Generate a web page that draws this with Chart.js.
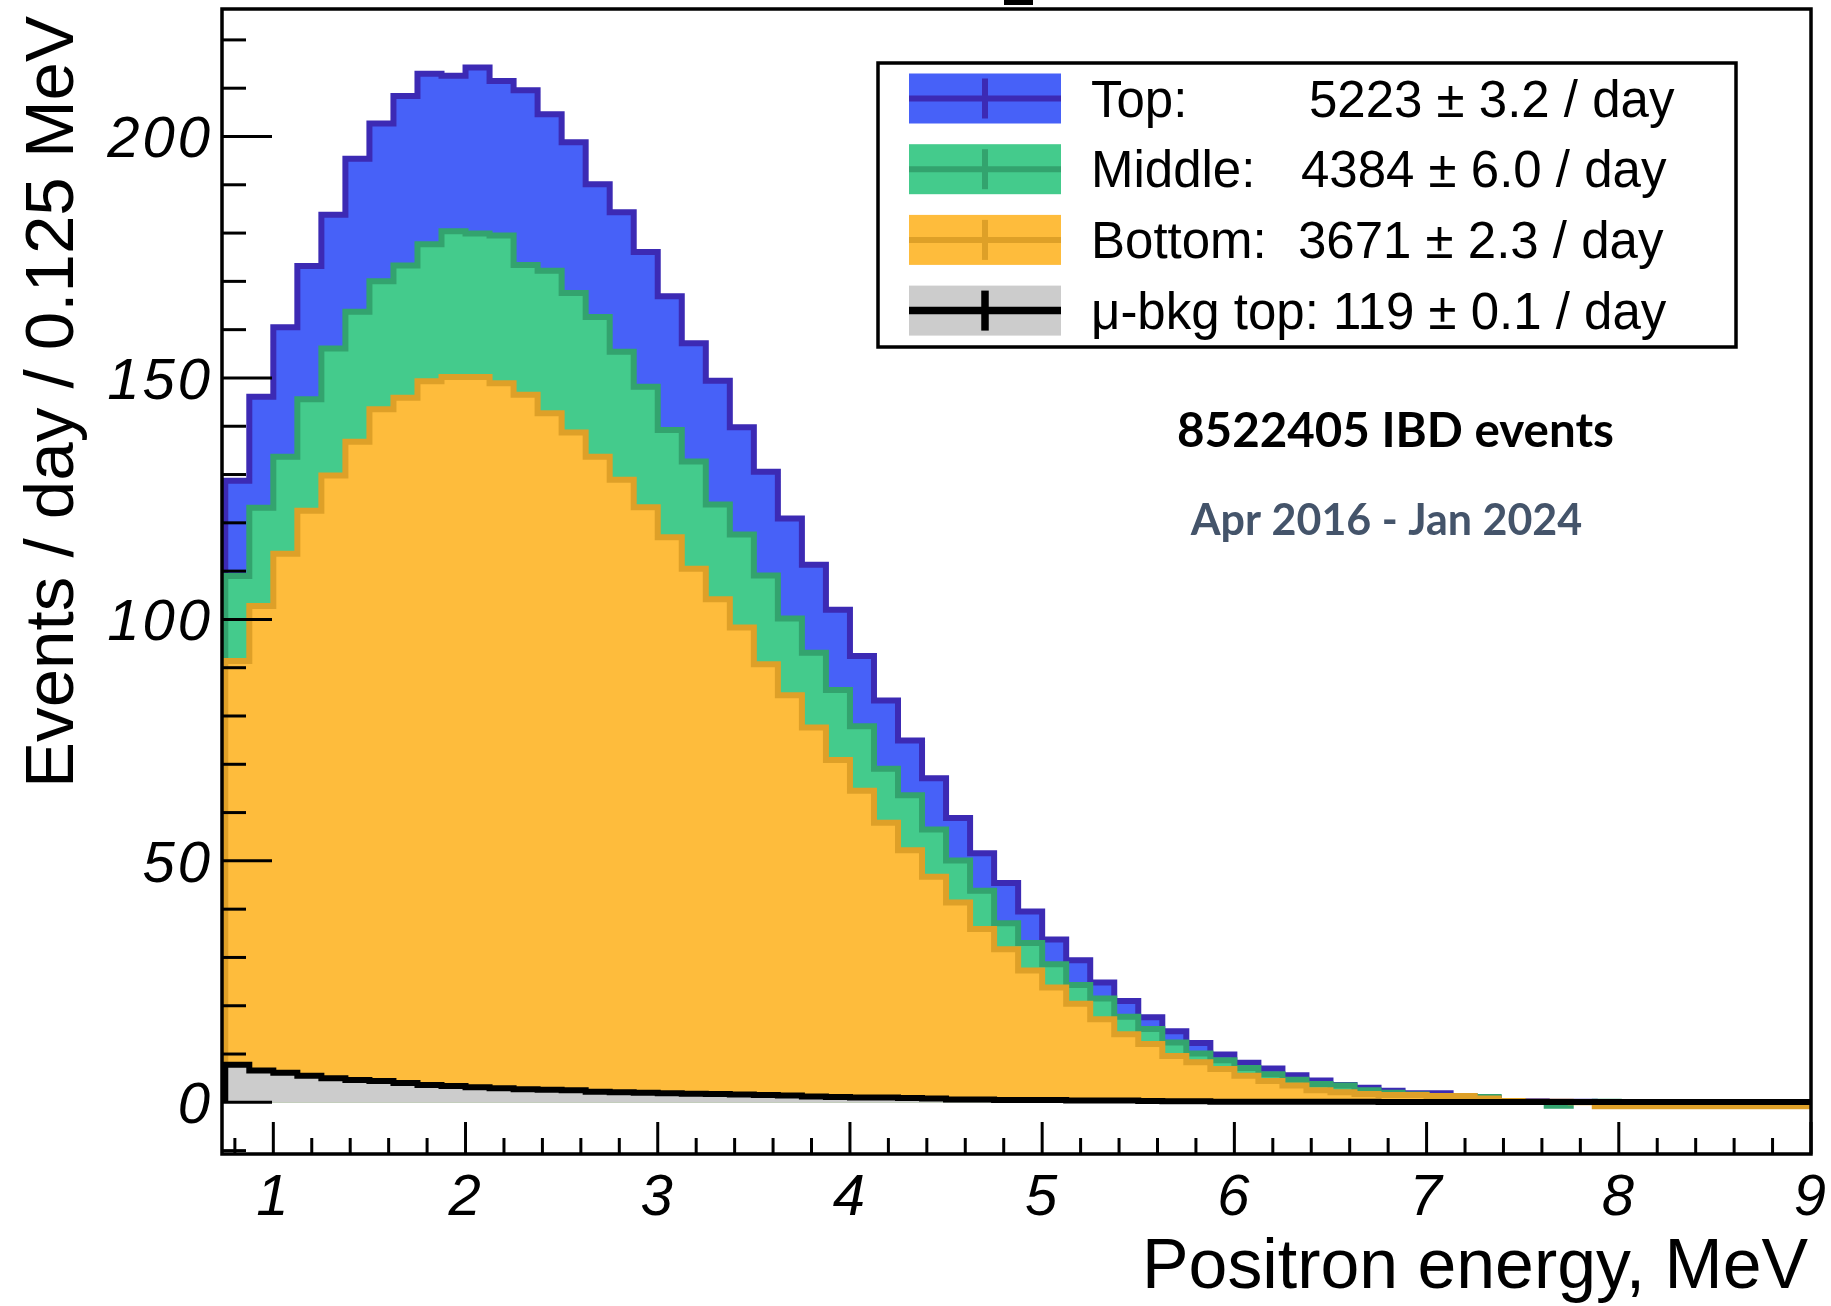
<!DOCTYPE html>
<html>
<head>
<meta charset="utf-8">
<script src="https://cdn.jsdelivr.net/npm/chart.js@4.4.1/dist/chart.umd.min.js"></script>
<style>
html,body{margin:0;padding:0;background:#ffffff;}
#wrap{width:1831px;height:1306px;position:relative;overflow:hidden;}
</style>
</head>
<body>
<div id="wrap"><canvas id="c" width="1831" height="1306"></canvas></div>
<script>
// ---------- data ----------
const binLowEdges = [0.75,0.875,1.0,1.125,1.25,1.375,1.5,1.625,1.75,1.875,2.0,2.125,2.25,2.375,2.5,2.625,2.75,2.875,3.0,3.125,3.25,3.375,3.5,3.625,3.75,3.875,4.0,4.125,4.25,4.375,4.5,4.625,4.75,4.875,5.0,5.125,5.25,5.375,5.5,5.625,5.75,5.875,6.0,6.125,6.25,6.375,6.5,6.625,6.75,6.875,7.0,7.125,7.25,7.375,7.5,7.625,7.75,7.875,8.0,8.125,8.25,8.375,8.5,8.625,8.75,8.875];
const binUpperEdge = 9.0;

const topValues = [128.7,146.1,160.5,173.2,183.8,195.4,202.7,208.4,213.0,212.6,214.3,211.5,209.6,204.6,198.8,190.1,184.3,176.1,166.9,157.2,149.4,139.8,130.6,120.9,111.3,102.0,92.4,83.2,74.9,67.1,58.9,51.6,45.4,39.5,33.7,29.4,24.8,21.0,17.6,14.7,12.3,9.9,8.2,7.0,5.6,4.5,3.6,3.0,2.4,1.9,1.9,1.2,0.9,0.3,0.2,0.1,0.1,0.05,0.05,0.03,0.02,0.02,0.01,0.01,0.0,0.0];
const middleValues = [109.0,123.1,133.7,145.6,156.1,163.7,170.0,173.3,177.7,180.4,179.9,179.5,173.4,172.2,167.6,162.6,155.4,148.2,139.2,132.7,123.8,117.6,109.1,100.2,93.1,85.4,77.9,69.1,63.6,56.5,50.1,43.8,37.1,33.0,28.6,24.3,21.5,17.7,15.2,12.4,10.1,8.7,7.1,5.8,4.7,3.8,3.5,2.5,2.0,1.6,1.3,1.2,1.1,0.2,0.05,-0.7,0.05,0.1,0.05,0.02,0.02,0.01,0.01,0.0,0.0,0.0];
const bottomValues = [91.4,102.8,113.6,122.5,129.8,136.8,143.5,145.9,149.3,150.2,150.2,148.9,146.5,142.7,138.7,133.7,128.9,123.2,117.0,110.5,104.2,98.3,90.7,84.3,77.6,70.9,64.5,57.9,52.2,46.7,41.4,35.9,31.7,27.3,23.8,20.4,17.2,14.1,12.1,9.6,8.3,6.9,5.5,4.4,3.5,2.5,2.1,1.7,1.5,1.5,1.3,1.3,0.8,0.3,0.1,0.1,0.0,-0.8,-0.8,-0.8,-0.8,-0.8,-0.8,-0.8,-0.8,-0.8];
const bkgValues = [7.8,6.6,6.1,5.5,5.0,4.6,4.4,4.0,3.6,3.4,3.1,2.9,2.7,2.6,2.5,2.2,2.1,2.0,1.9,1.8,1.7,1.6,1.5,1.4,1.2,1.1,1.0,1.0,0.9,0.8,0.6,0.6,0.5,0.5,0.5,0.4,0.4,0.4,0.3,0.2,0.2,0.1,0.1,0.1,0.1,0.1,0.1,0.1,0.05,0.05,0.05,0.05,0.05,0.05,0.05,0.05,0.05,0.05,0.05,0.05,0.05,0.05,0.05,0.05,0.05,0.05];

const seriesNames = ['Top:', 'Middle:', 'Bottom:', 'μ-bkg top:'];
const seriesRates = ['5223 ± 3.2 / day', '4384 ± 6.0 / day', '3671 ± 2.3 / day', '119 ± 0.1 / day'];

const xTickValues = [1,2,3,4,5,6,7,8,9];
const xTickLabels = ['1','2','3','4','5','6','7','8','9'];
const yTickValues = [0,50,100,150,200];
const yTickLabels = ['0','50','100','150','200'];

const xTitle = 'Positron energy, MeV';
const yTitle = 'Events / day / 0.125 MeV';
const noteLine1 = '8522405 IBD events';
const noteLine2 = 'Apr 2016 - Jan 2024';

// ---------- styles ----------
const COL = {
  topFill: '#4761F8', topLine: '#3C2AB4',
  midFill: '#44CB8C', midLine: '#33A36E',
  botFill: '#FEBC3C', botLine: '#DEA028',
  bkgFill: '#CCCCCC', bkgLine: '#000000'
};

function histPoints(values) {
  const pts = [{x: binLowEdges[0], y: 0}];
  values.forEach((v, i) => pts.push({x: binLowEdges[i], y: v}));
  pts.push({x: binUpperEdge, y: values[values.length - 1]});
  return pts;
}

function histDataset(label, values, fill, line, width) {
  return {
    label: label,
    data: histPoints(values),
    stepped: 'before',
    fill: 'origin',
    backgroundColor: fill,
    borderColor: line,
    borderWidth: width,
    pointRadius: 0,
    pointHoverRadius: 0,
    tension: 0,
    clip: 0,
    borderJoinStyle: 'miter'
  };
}

const FONT = '"Liberation Sans", Arial, Helvetica, sans-serif';

function fitFont(ctx, text, weightStyle, family, targetWidth) {
  ctx.font = weightStyle + ' 100px ' + family;
  const w = ctx.measureText(text).width;
  return 100 * targetWidth / w;
}

const rootStyle = {
  id: 'rootStyle',
  beforeDraw(chart) {
    const ctx = chart.ctx;
    ctx.save();
    ctx.fillStyle = '#ffffff';
    ctx.fillRect(0, 0, chart.width, chart.height);
    ctx.restore();
  },
  afterDatasetsDraw(chart) {
    const ctx = chart.ctx;
    const a = chart.chartArea;
    const xs = chart.scales.x, ys = chart.scales.y;
    ctx.save();

    // frame
    ctx.strokeStyle = '#000';
    ctx.lineWidth = 3.5;
    ctx.strokeRect(a.left, a.top, a.right - a.left, a.bottom - a.top);

    // y ticks (inside, pointing right)
    ctx.lineWidth = 3;
    for (let v = -10; v <= 220; v += 10) {
      const y = ys.getPixelForValue(v);
      const len = (v % 50 === 0) ? 50 : 24;
      ctx.beginPath(); ctx.moveTo(a.left, y); ctx.lineTo(a.left + len, y); ctx.stroke();
    }
    // x ticks (inside, pointing up)
    for (let i = 4; i <= 45; i++) {
      const x = xs.getPixelForValue(i / 5);
      const len = (i % 5 === 0) ? 32 : 16;
      ctx.beginPath(); ctx.moveTo(x, a.bottom); ctx.lineTo(x, a.bottom - len); ctx.stroke();
    }

    // tick labels
    ctx.fillStyle = '#000';
    ctx.font = 'italic 58px ' + FONT;
    const hasLS = ('letterSpacing' in ctx);
    if (hasLS) ctx.letterSpacing = '3px';
    ctx.textBaseline = 'alphabetic';
    ctx.textAlign = 'right';
    yTickValues.forEach((v, i) => {
      ctx.fillText(yTickLabels[i], 210 + (hasLS ? 3 : 0), ys.getPixelForValue(v) + 21);
    });
    if (hasLS) ctx.letterSpacing = '0px';
    ctx.textAlign = 'center';
    xTickValues.forEach((v, i) => {
      ctx.fillText(xTickLabels[i], xs.getPixelForValue(v) - 1, 1215);
    });

    // axis titles
    let fs = fitFont(ctx, xTitle, 'normal', FONT, 666);
    ctx.font = fs.toFixed(1) + 'px ' + FONT;
    ctx.textAlign = 'right';
    ctx.fillText(xTitle, 1808, 1288);

    fs = fitFont(ctx, yTitle, 'normal', FONT, 772);
    ctx.font = fs.toFixed(1) + 'px ' + FONT;
    ctx.save();
    ctx.translate(73, 16);
    ctx.rotate(-Math.PI / 2);
    ctx.textAlign = 'right';
    ctx.fillText(yTitle, 0, 0);
    ctx.restore();

    // cropped fragment of a title above the frame
    ctx.fillStyle = '#000';
    ctx.fillRect(1004, 0, 29, 5);

    // legend
    const fills = [COL.topFill, COL.midFill, COL.botFill, COL.bkgFill];
    const lines = [COL.topLine, COL.midLine, COL.botLine, COL.bkgLine];
    ctx.fillStyle = '#fff';
    ctx.fillRect(878, 63, 858, 284);
    ctx.strokeStyle = '#000';
    ctx.lineWidth = 3.5;
    ctx.strokeRect(878, 63, 858, 284);
    const rateX = [1309, 1301, 1298];
    for (let i = 0; i < 4; i++) {
      const cy = 98.5 + 70.7 * i;
      const sx = 909, sw = 152, sh = 50;
      ctx.fillStyle = fills[i];
      ctx.fillRect(sx, cy - sh / 2, sw, sh);
      ctx.strokeStyle = lines[i];
      ctx.lineWidth = i === 3 ? 7.5 : 6;
      ctx.beginPath(); ctx.moveTo(sx, cy); ctx.lineTo(sx + sw, cy); ctx.stroke();
      ctx.beginPath(); ctx.moveTo(sx + sw / 2, cy - sh / 2 + 5); ctx.lineTo(sx + sw / 2, cy + sh / 2 - 5); ctx.stroke();
      ctx.fillStyle = '#000';
      ctx.font = '51px ' + FONT;
      ctx.textAlign = 'left';
      if (i < 3) {
        ctx.fillText(seriesNames[i], 1091, cy + 18);
        ctx.fillText(seriesRates[i], rateX[i], cy + 18);
      } else {
        ctx.fillText(seriesNames[i] + ' ' + seriesRates[i], 1091, cy + 18);
      }
    }

    // annotations
    const NOTE = 'Lato, "Open Sans", sans-serif';
    fs = fitFont(ctx, noteLine1, 'bold', NOTE, 437);
    ctx.font = 'bold ' + fs.toFixed(1) + 'px ' + NOTE;
    ctx.fillStyle = '#000';
    ctx.textAlign = 'center';
    ctx.fillText(noteLine1, 1395.5, 447);
    fs = fitFont(ctx, noteLine2, 'bold', NOTE, 391);
    ctx.font = 'bold ' + fs.toFixed(1) + 'px ' + NOTE;
    ctx.fillStyle = '#44546A';
    ctx.fillText(noteLine2, 1386.5, 535);

    ctx.restore();
  }
};

new Chart(document.getElementById('c'), {
  type: 'line',
  data: {
    datasets: [
      histDataset('μ-bkg top', bkgValues, COL.bkgFill, COL.bkgLine, 6),
      histDataset('Bottom', bottomValues, COL.botFill, COL.botLine, 6),
      histDataset('Middle', middleValues, COL.midFill, COL.midLine, 6),
      histDataset('Top', topValues, COL.topFill, COL.topLine, 6)
    ]
  },
  options: {
    responsive: false,
    animation: false,
    devicePixelRatio: 1,
    layout: { padding: { left: 222, top: 9, right: 20, bottom: 152 } },
    plugins: { legend: { display: false }, tooltip: { enabled: false } },
    events: [],
    scales: {
      x: { type: 'linear', min: 0.733, max: 9.0, display: false },
      y: { type: 'linear', min: -10.7, max: 226.4, display: false }
    }
  },
  plugins: [rootStyle]
});
</script>
</body>
</html>
